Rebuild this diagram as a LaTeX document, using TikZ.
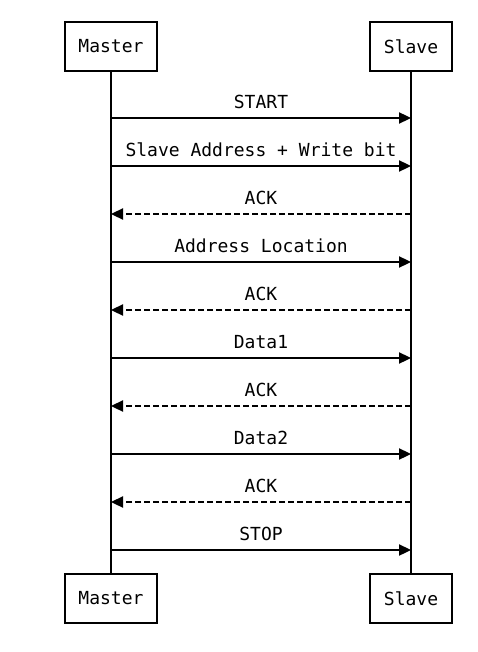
\documentclass[tikz,border=0pt]{standalone}
\usepackage{fontspec}
\setmonofont{DejaVu Sans Mono}
\usetikzlibrary{arrows.meta}
\tikzset{
  actor/.style={draw, line width=2.3pt, minimum height=49pt, inner sep=0pt, font=\ttfamily\fontsize{18}{20}\selectfont},
  life/.style={line width=2.3pt},
  msg/.style={line width=2.3pt, -{Triangle[length=12pt,width=11pt]}},
  reply/.style={msg, dash pattern=on 6pt off 3pt},
  lbl/.style={midway, anchor=base, yshift=9.5pt, inner sep=0pt, font=\ttfamily\fontsize{18}{20}\selectfont}
}
\begin{document}
\begin{tikzpicture}[x=1pt,y=-1pt]
\useasboundingbox (0,0) rectangle (477,652);
\node[actor, minimum width=92pt] (mt) at (111,46.5) {Master};
\node[actor, minimum width=82pt] (st) at (411,46.5) {Slave};
\node[actor, minimum width=92pt] (mb) at (111,598.5) {Master};
\node[actor, minimum width=82pt] (sb) at (411,598.5) {Slave};
\draw[life] (mt.south) -- (mb.north);
\draw[life] (st.south) -- (sb.north);
\foreach \i/\y in {1/118,2/166,3/214,4/262,5/310,6/358,7/406,8/454,9/502,10/550}{
  \coordinate (m\i) at (111,\y);
  \coordinate (s\i) at (411,\y);
}
\draw[msg] (m1) -- node[lbl] {START} (s1);
\draw[msg] (m2) -- node[lbl] {Slave Address + Write bit} (s2);
\draw[reply] (s3) -- node[lbl] {ACK} (m3);
\draw[msg] (m4) -- node[lbl] {Address Location} (s4);
\draw[reply] (s5) -- node[lbl] {ACK} (m5);
\draw[msg] (m6) -- node[lbl] {Data1} (s6);
\draw[reply] (s7) -- node[lbl] {ACK} (m7);
\draw[msg] (m8) -- node[lbl] {Data2} (s8);
\draw[reply] (s9) -- node[lbl] {ACK} (m9);
\draw[msg] (m10) -- node[lbl] {STOP} (s10);
\end{tikzpicture}
\end{document}
